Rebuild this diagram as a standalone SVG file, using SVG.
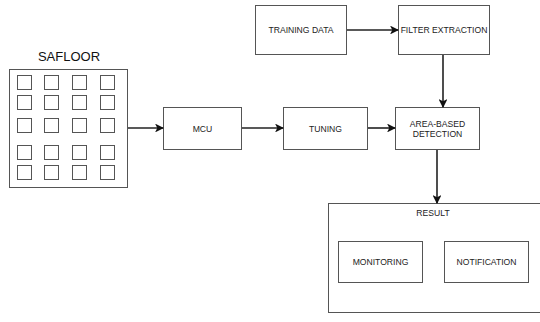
<svg xmlns="http://www.w3.org/2000/svg" width="540" height="322" viewBox="0 0 540 322">
  <style>
    .box { fill: #ffffff; stroke: #555555; stroke-width: 1; }
    .cell { fill: #ffffff; stroke: #555555; stroke-width: 1; }
    .lbl { font-family: "Liberation Sans", Arial, sans-serif; font-size: 8.6px; fill: #222222; text-anchor: middle; dominant-baseline: central; }
    .title { font-family: "Liberation Sans", Arial, sans-serif; font-size: 13px; fill: #111111; text-anchor: middle; }
    .edge { fill: none; stroke: #222222; stroke-width: 1.6; marker-end: url(#arrow); }
  </style>
  <defs>
    <marker id="arrow" viewBox="0 0 10 10" refX="9" refY="5" markerWidth="5.5" markerHeight="5.5" orient="auto" markerUnits="strokeWidth">
      <path d="M0,0 L10,5 L0,10 L2.5,5 Z" fill="#111111"/>
    </marker>
  </defs>
  <rect width="540" height="322" fill="#ffffff"/>

  <!-- sensor floor with its tile grid -->
  <g id="safloor">
    <text class="title" x="69" y="61">SAFLOOR</text>
    <rect class="box" x="9.5" y="69.5" width="118" height="118"/>
    <g id="tiles">
      <rect class="cell" x="17.5" y="75.5" width="14" height="14"/>
      <rect class="cell" x="44.5" y="75.5" width="14" height="14"/>
      <rect class="cell" x="72.5" y="75.5" width="14" height="14"/>
      <rect class="cell" x="100.5" y="75.5" width="14" height="14"/>
      <rect class="cell" x="17.5" y="95.5" width="14" height="14"/>
      <rect class="cell" x="44.5" y="95.5" width="14" height="14"/>
      <rect class="cell" x="72.5" y="95.5" width="14" height="14"/>
      <rect class="cell" x="100.5" y="95.5" width="14" height="14"/>
      <rect class="cell" x="17.5" y="118.5" width="14" height="14"/>
      <rect class="cell" x="44.5" y="118.5" width="14" height="14"/>
      <rect class="cell" x="72.5" y="118.5" width="14" height="14"/>
      <rect class="cell" x="100.5" y="118.5" width="14" height="14"/>
      <rect class="cell" x="17.5" y="145.5" width="14" height="14"/>
      <rect class="cell" x="44.5" y="145.5" width="14" height="14"/>
      <rect class="cell" x="72.5" y="145.5" width="14" height="14"/>
      <rect class="cell" x="100.5" y="145.5" width="14" height="14"/>
      <rect class="cell" x="17.5" y="165.5" width="14" height="14"/>
      <rect class="cell" x="44.5" y="165.5" width="14" height="14"/>
      <rect class="cell" x="72.5" y="165.5" width="14" height="14"/>
      <rect class="cell" x="100.5" y="165.5" width="14" height="14"/>
    </g>
  </g>

  <g id="mcu">
    <rect class="box" x="163.5" y="107.5" width="78" height="42"/>
    <text class="lbl" x="202.5" y="128.5">MCU</text>
  </g>

  <g id="tuning">
    <rect class="box" x="283.5" y="107.5" width="84" height="42"/>
    <text class="lbl" x="325.5" y="128.5">TUNING</text>
  </g>

  <g id="training-data">
    <rect class="box" x="255.5" y="5.5" width="91" height="49"/>
    <text class="lbl" x="301" y="30">TRAINING DATA</text>
  </g>

  <g id="filter-extraction">
    <rect class="box" x="398.5" y="5.5" width="91" height="49"/>
    <text class="lbl" x="444" y="30">FILTER EXTRACTION</text>
  </g>

  <g id="area-based-detection">
    <rect class="box" x="395.5" y="107.5" width="84" height="42"/>
    <text class="lbl" x="437.5" y="123.5">AREA-BASED</text>
    <text class="lbl" x="437.5" y="133.5">DETECTION</text>
  </g>

  <g id="result">
    <rect class="box" x="328.5" y="203.5" width="215" height="109"/>
    <text class="lbl" x="433" y="213">RESULT</text>
  </g>

  <g id="monitoring">
    <rect class="box" x="338.5" y="241.5" width="84" height="41"/>
    <text class="lbl" x="380.5" y="262">MONITORING</text>
  </g>

  <g id="notification">
    <rect class="box" x="444.5" y="241.5" width="84" height="41"/>
    <text class="lbl" x="486.5" y="262">NOTIFICATION</text>
  </g>

  <g id="connectors">
    <line class="edge" x1="128" y1="128" x2="163" y2="128"/>
    <line class="edge" x1="242" y1="128" x2="283" y2="128"/>
    <line class="edge" x1="368" y1="128" x2="395" y2="128"/>
    <line class="edge" x1="347" y1="30" x2="398" y2="30"/>
    <line class="edge" x1="443" y1="55" x2="443" y2="107"/>
    <line class="edge" x1="437" y1="150" x2="437" y2="203"/>
  </g>
</svg>
